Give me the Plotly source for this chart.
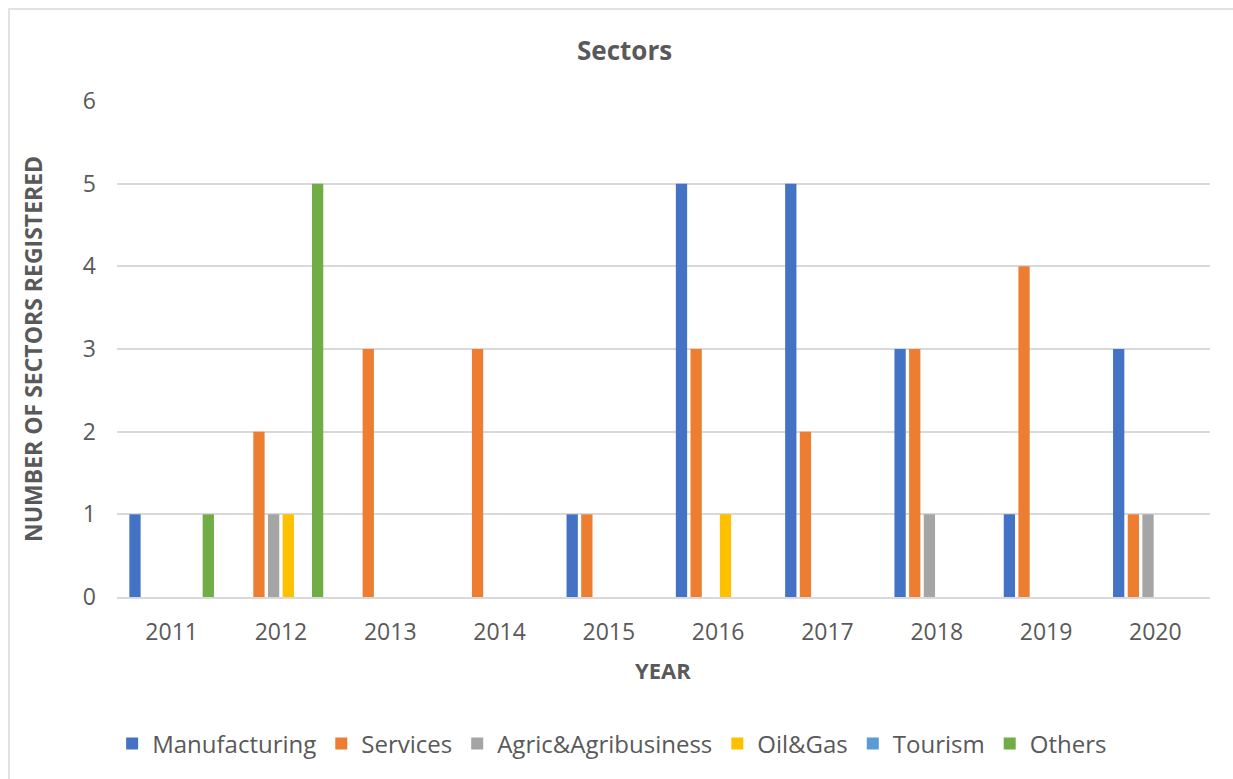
import plotly.graph_objects as go

years = ["2011", "2012", "2013", "2014", "2015", "2016", "2017", "2018", "2019", "2020"]
manufacturing = [1, 0, 0, 0, 1, 5, 5, 3, 1, 3]
services = [0, 2, 3, 3, 1, 3, 2, 3, 4, 1]
agric = [0, 1, 0, 0, 0, 0, 0, 1, 0, 1]
oil_gas = [0, 1, 0, 0, 0, 1, 0, 0, 0, 0]
tourism = [0, 0, 0, 0, 0, 0, 0, 0, 0, 0]
others = [1, 5, 0, 0, 0, 0, 0, 0, 0, 0]

series = [
    ("Manufacturing", manufacturing, "#4472C4"),
    ("Services", services, "#ED7D31"),
    ("Agric&Agribusiness", agric, "#A5A5A5"),
    ("Oil&Gas", oil_gas, "#FFC000"),
    ("Tourism", tourism, "#5B9BD5"),
    ("Others", others, "#70AD47"),
]

W, H = 1233, 779
L, R, T, B = 117, 23, 101, 182
pw, ph = W - L - R, H - T - B

def px_x(p):
    return (p - L) / pw

def px_y(p):
    return (H - B - p) / ph

fig = go.Figure()
for name, vals, col in series:
    fig.add_trace(go.Bar(x=years, y=vals, name=name,
                         marker=dict(color=col, line=dict(width=0))))

font = "Open Sans, DejaVu Sans, sans-serif"
grey = "#595959"

fig.update_layout(
    width=W, height=H,
    margin=dict(l=L, r=R, t=T, b=B),
    paper_bgcolor="white", plot_bgcolor="white",
    barmode="group", bargap=0.195, bargroupgap=0.23,
    font=dict(family=font, color=grey, size=23),
    showlegend=True,
    legend=dict(orientation="h", x=0.453, xanchor="center",
                y=px_y(744), yanchor="middle",
                font=dict(size=24, color=grey),
                itemsizing="constant", traceorder="normal",
                itemwidth=30),
    xaxis=dict(showgrid=False, showline=True, linecolor="#D9D9D9", linewidth=1.5,
               ticks="", tickfont=dict(size=23, color=grey), ticklabelstandoff=14),
    yaxis=dict(range=[0, 6], dtick=1, showgrid=True, gridcolor="#D9D9D9", gridwidth=1.5,
               zeroline=False, showline=False, ticks="",
               tickfont=dict(size=23, color=grey), ticklabelstandoff=20),
    annotations=[
        dict(text="<b>Sectors</b>", x=px_x(624), y=px_y(50), xref="paper", yref="paper",
             showarrow=False, font=dict(size=26, color=grey), xanchor="center", yanchor="middle"),
        dict(text="<b>YEAR</b>", x=px_x(663), y=px_y(670), xref="paper", yref="paper",
             showarrow=False, font=dict(size=22, color=grey), xanchor="center", yanchor="middle"),
        dict(text="<b>NUMBER OF SECTORS REGISTERED</b>", x=px_x(33), y=px_y(349),
             xref="paper", yref="paper", textangle=-90,
             showarrow=False, font=dict(size=23, color=grey), xanchor="center", yanchor="middle"),
    ],
    shapes=[
        dict(type="rect", xref="paper", yref="paper",
             x0=px_x(9), x1=px_x(1240), y0=px_y(790), y1=px_y(9),
             line=dict(color="#D9D9D9", width=1.5), fillcolor="rgba(0,0,0,0)", layer="below"),
    ],
)

fig.write_html("out.html")
